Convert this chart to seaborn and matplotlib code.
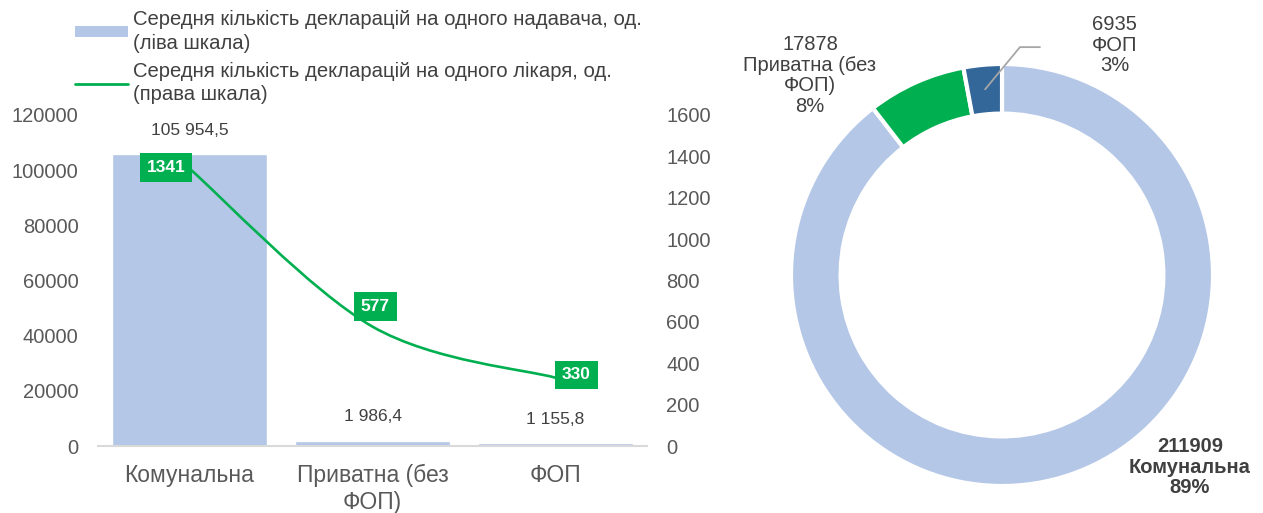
import numpy as np
import pandas as pd
import matplotlib.pyplot as plt
import seaborn as sns
from matplotlib.patches import Patch, PathPatch
from matplotlib.lines import Line2D
from matplotlib.path import Path

# дані з графіка
categories = ["Комунальна", "Приватна (без ФОП)", "ФОП"]
tick_labels = ["Комунальна", "Приватна (без\nФОП)", "ФОП"]
decl_per_provider = [105954.5, 1986.4, 1155.8]
decl_per_doctor = [1341, 577, 330]

donut_values = [211909, 17878, 6935]
donut_names = ["Комунальна", "Приватна (без\nФОП)", "ФОП"]
donut_pct = [89, 8, 3]

legend_bar = "Середня кількість декларацій на одного надавача, од.\n(ліва шкала)"
legend_line = "Середня кількість декларацій на одного лікаря, од.\n(права шкала)"

LIGHT = "#B4C7E7"
GREEN = "#00B050"
DARK = "#336699"
TXT = "#404040"
TICK = "#595959"

sns.set_theme(style="white")
plt.rcParams['font.family'] = ['Liberation Sans', 'DejaVu Sans']

W, H = 1263, 513
fig = plt.figure(figsize=(W / 100, H / 100), dpi=100)

def px_axes(left, top, right, bottom):
    return fig.add_axes([left / W, 1 - bottom / H, (right - left) / W, (bottom - top) / H])

# ---- ліва частина: стовпці + лінія
ax = px_axes(98, 115, 647, 446)
df = pd.DataFrame({"cat": categories, "val": decl_per_provider})
sns.barplot(data=df, x="cat", y="val", color=LIGHT, saturation=1, width=0.85, ax=ax)
ax.set_xlim(-0.5, 2.5)
ax.set_ylim(0, 120000)
ax.set_yticks(np.arange(0, 120001, 20000))
ax.set_xticks(range(len(categories)))
ax.set_xticklabels(tick_labels, fontsize=16.5, color=TICK, linespacing=1.2)
ax.set_xlabel("")
ax.set_ylabel("")
ax.tick_params(axis="y", labelsize=14.5, colors=TICK, length=0, pad=14)
ax.tick_params(axis="x", length=0, pad=13)
for s in ["top", "right", "left"]:
    ax.spines[s].set_visible(False)
ax.spines["bottom"].set_color("#D9D9D9")
ax.spines["bottom"].set_linewidth(1.5)

for i, v in enumerate(decl_per_provider):
    lab = f"{v:,.1f}".replace(",", " ").replace(".", ",")
    ax.annotate(lab, (i, v), xytext=(0, 17), textcoords="offset points",
                ha="center", va="center", fontsize=12.5, color=TXT)

ax2 = ax.twinx()
ax2.set_ylim(0, 1600)
ax2.set_yticks(np.arange(0, 1601, 200))
ax2.tick_params(axis="y", labelsize=14.5, colors=TICK, length=0, pad=14)
for s in ax2.spines.values():
    s.set_visible(False)
ax2.grid(False)
ax.grid(False)

# згладжена лінія (як у Excel) - кубічні криві Безьє через точки
pts = ax2.transData.transform(np.column_stack([np.arange(len(decl_per_doctor)), decl_per_doctor]))
verts = [pts[0]]
codes = [Path.MOVETO]
n = len(pts)
for i in range(n - 1):
    p_prev = pts[i - 1] if i > 0 else pts[i]
    p_next2 = pts[i + 2] if i + 2 < n else pts[i + 1]
    c1 = pts[i] + (pts[i + 1] - p_prev) / 6
    c2 = pts[i + 1] - (p_next2 - pts[i]) / 6
    verts += [c1, c2, pts[i + 1]]
    codes += [Path.CURVE4] * 3
fig.patches.append(PathPatch(Path(verts, codes), fill=False, edgecolor=GREEN,
                             linewidth=1.9, transform=None, figure=fig))

offsets = [(-17, 1), (2, 14.5), (15, 2)]
for i, v in enumerate(decl_per_doctor):
    ax2.annotate(str(v), (i, v), xytext=offsets[i], textcoords="offset points",
                 ha="center", va="center", fontsize=12.5, fontweight="bold", color="white",
                 bbox=dict(boxstyle="square,pad=0.4", fc=GREEN, ec="none"), zorder=5)

handles = [Patch(facecolor=LIGHT, edgecolor="none"), Line2D([0], [0], color=GREEN, lw=2)]
leg = fig.legend(handles, [legend_bar, legend_line], loc="upper left",
                 bbox_to_anchor=(75 / W, 1 - 10 / H), frameon=False, fontsize=14.6,
                 handlelength=2.6, handletextpad=0.25, labelspacing=0.45,
                 borderpad=0, borderaxespad=0, handleheight=0.45)
for t in leg.get_texts():
    t.set_color(TXT)
    t.set_linespacing(1.3)

# ---- права частина: кільцева діаграма
ax3 = px_axes(791, 64, 1213, 486)
ax3.pie(donut_values, colors=[LIGHT, GREEN, DARK], startangle=90, counterclock=False,
        radius=1, wedgeprops=dict(width=0.235, edgecolor="white", linewidth=3))
ax3.set_xlim(-1, 1)
ax3.set_ylim(-1, 1)
ax3.set_aspect("equal")
ax3.axis("off")

label_pos = [(0.89, -0.91), (-0.91, 0.945), (0.535, 1.09)]
for i, (v, nm, p) in enumerate(zip(donut_values, donut_names, donut_pct)):
    ax3.text(label_pos[i][0], label_pos[i][1], f"{v}\n{nm}\n{p}%", ha="center", va="center",
             fontsize=14.5, color=TXT, fontweight="bold" if i == 0 else "normal",
             linespacing=1.1, clip_on=False)

ax3.plot([0.18, 0.085, -0.08], [1.08, 1.08, 0.88], color="#A6A6A6", lw=1.3, clip_on=False)

fig.savefig("out.png", dpi=100)
